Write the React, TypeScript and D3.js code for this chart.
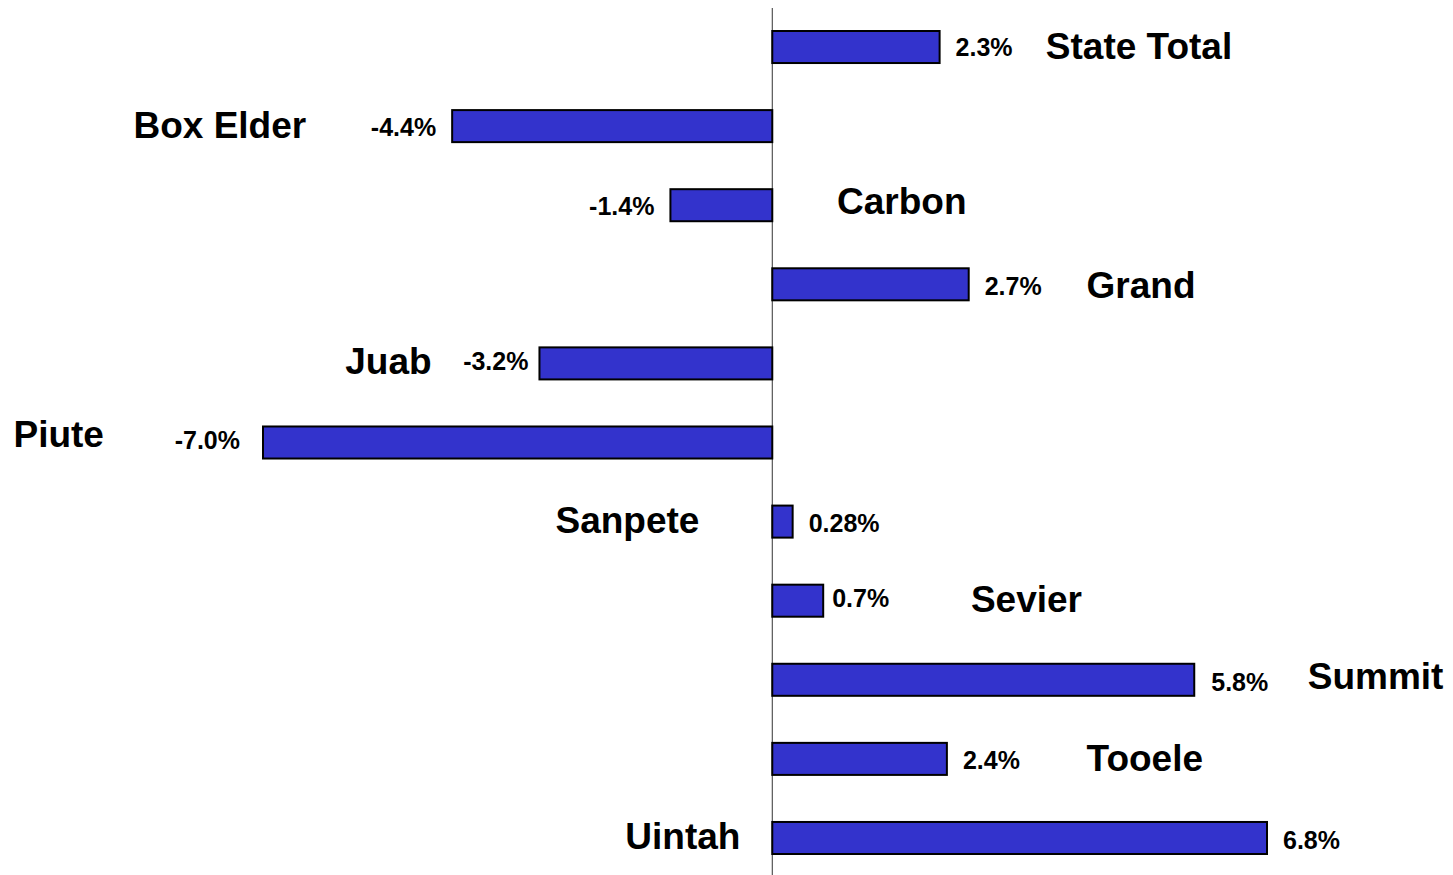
import React from "react";
import * as d3 from "d3";

const counties = ["State Total", "Box Elder", "Carbon", "Grand", "Juab", "Piute", "Sanpete", "Sevier", "Summit", "Tooele", "Uintah"];
const changes = [2.3, -4.4, -1.4, 2.7, -3.2, -7.0, 0.28, 0.7, 5.8, 2.4, 6.8];
const valueLabels = ["2.3%", "-4.4%", "-1.4%", "2.7%", "-3.2%", "-7.0%", "0.28%", "0.7%", "5.8%", "2.4%", "6.8%"];

// layout: county label left edge (in % units on the x scale) and vertical nudge
const nameAnchor = [3.76, -8.78, 0.89, 4.32, -5.87, -10.43, -2.98, 2.73, 7.36, 4.32, -2.02];
const nameDy = [-1, -1, -4, 1, -2, -8, -1, -1, -3, 0, -1];
const valueGap = [16, 16, 16, 16, 11, 23, 16, 9, 17, 16, 16];
const valueDy = [0, 1, 1, 2, -2, -3, 1, -3, 2, 1, 2];

const W = 1453;
const H = 875;

export default function App() {
  const x = d3.scaleLinear().domain([-7, 6.8]).range([263, 1267]);
  const y = d3.scaleBand<string>().domain(counties).range([31, 854]).paddingInner(0.595).paddingOuter(0);
  const x0 = x(0);
  const font = "'Liberation Sans', Arial, Helvetica, sans-serif";

  return (
    <div style={{ position: "fixed", left: 0, top: 0 }}>
      <svg width={W} height={H} style={{ display: "block", background: "#fff" }}>
        <line x1={x0} x2={x0} y1={8} y2={H} stroke="#333" strokeWidth={1} />
        {counties.map((c, i) => {
          const v = changes[i];
          const yb = y(c)!;
          const bw = y.bandwidth();
          const xs = Math.min(x(v), x0);
          const xe = Math.max(x(v), x0);
          const cy = yb + bw / 2;
          const pos = v >= 0;
          return (
            <g key={c}>
              <rect x={xs} y={yb} width={xe - xs} height={bw} fill="#3333CC" stroke="#000" strokeWidth={2} />
              <text
                x={pos ? xe + valueGap[i] : xs - valueGap[i]}
                y={cy + valueDy[i]}
                textAnchor={pos ? "start" : "end"}
                dominantBaseline="central"
                fontFamily={font}
                fontWeight="bold"
                fontSize={25}
                fill="#000"
              >
                {valueLabels[i]}
              </text>
              <text
                x={x(nameAnchor[i])}
                y={cy + nameDy[i]}
                textAnchor="start"
                dominantBaseline="central"
                fontFamily={font}
                fontWeight="bold"
                fontSize={37}
                fill="#000"
              >
                {c}
              </text>
            </g>
          );
        })}
      </svg>
    </div>
  );
}
